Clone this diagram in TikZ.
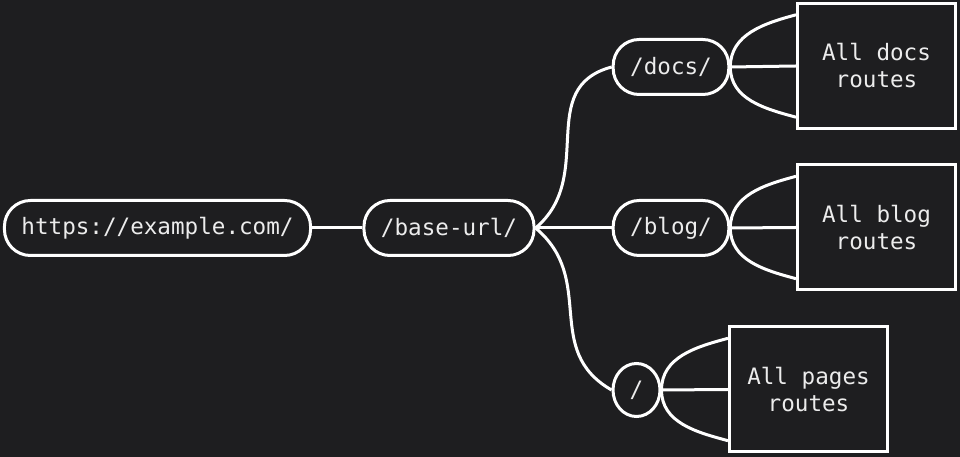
\documentclass[tikz,border=0pt]{standalone}
\usepackage{fontspec}
\setmonofont{DejaVu Sans Mono}
\usetikzlibrary{shapes.geometric,calc}
\begin{document}
\begin{tikzpicture}[
            x=1pt, y=1pt,
            line width=3pt,
            font=\ttfamily\fontsize{22.6}{27}\selectfont,
            stylepill/.style={draw=white, rounded corners=26pt, minimum height=55pt, inner xsep=17pt, text=mytext},
            styleoval/.style={ellipse, draw=white, minimum width=47pt, minimum height=53pt, inner sep=0pt, text=mytext},
            stylebox/.style={draw=white, minimum width=158pt, minimum height=125pt, align=center, text=mytext},
            wire/.style={draw=white}
        ]
		\definecolor{mybg}{RGB}{30,30,32}
		\definecolor{mytext}{RGB}{236,236,236}
		
		%Background
		\fill[mybg] (0,0) rectangle (960,457);
		\useasboundingbox (0,0) rectangle (960,457);
		
		%Paths
		\node[stylepill] (url) at (157.5,229) {https://example.com/};
		\node[stylepill] (base) at (449,229) {/base-url/};
		\node[stylepill] (docs) at (671,390) {/docs/};
		\node[stylepill] (blog) at (671,229) {/blog/};
		\node[styleoval] (root) at (636.5,67) {/};
		
		%Routes
		\node[stylebox] (docsbox) at (876.5,391) {All docs\\routes};
		\node[stylebox] (blogbox) at (876.5,229.5) {All blog\\routes};
		\node[stylebox] (pagesbox) at (808.5,67.5) {All pages\\routes};
		
		\draw[wire] (url) -- (base);
		\draw[wire] (base.east) to[out=40,in=195,looseness=1.15] (docs.west);
		\draw[wire] (base.east) -- (blog.west);
		\draw[wire] (base.east) to[out=-40,in=150,looseness=1.15] (root.west);
		
		\foreach \from/\to in {docs/docsbox, blog/blogbox, root/pagesbox}{
			\draw[wire] (\from.east) to[out=90,in=195] ($(\to.north west)!0.1!(\to.south west)$);
			\draw[wire] (\from.east) -- (\to.west);
			\draw[wire] (\from.east) to[out=-90,in=165] ($(\to.north west)!0.9!(\to.south west)$);
		}
    \end{tikzpicture}
\end{document}
